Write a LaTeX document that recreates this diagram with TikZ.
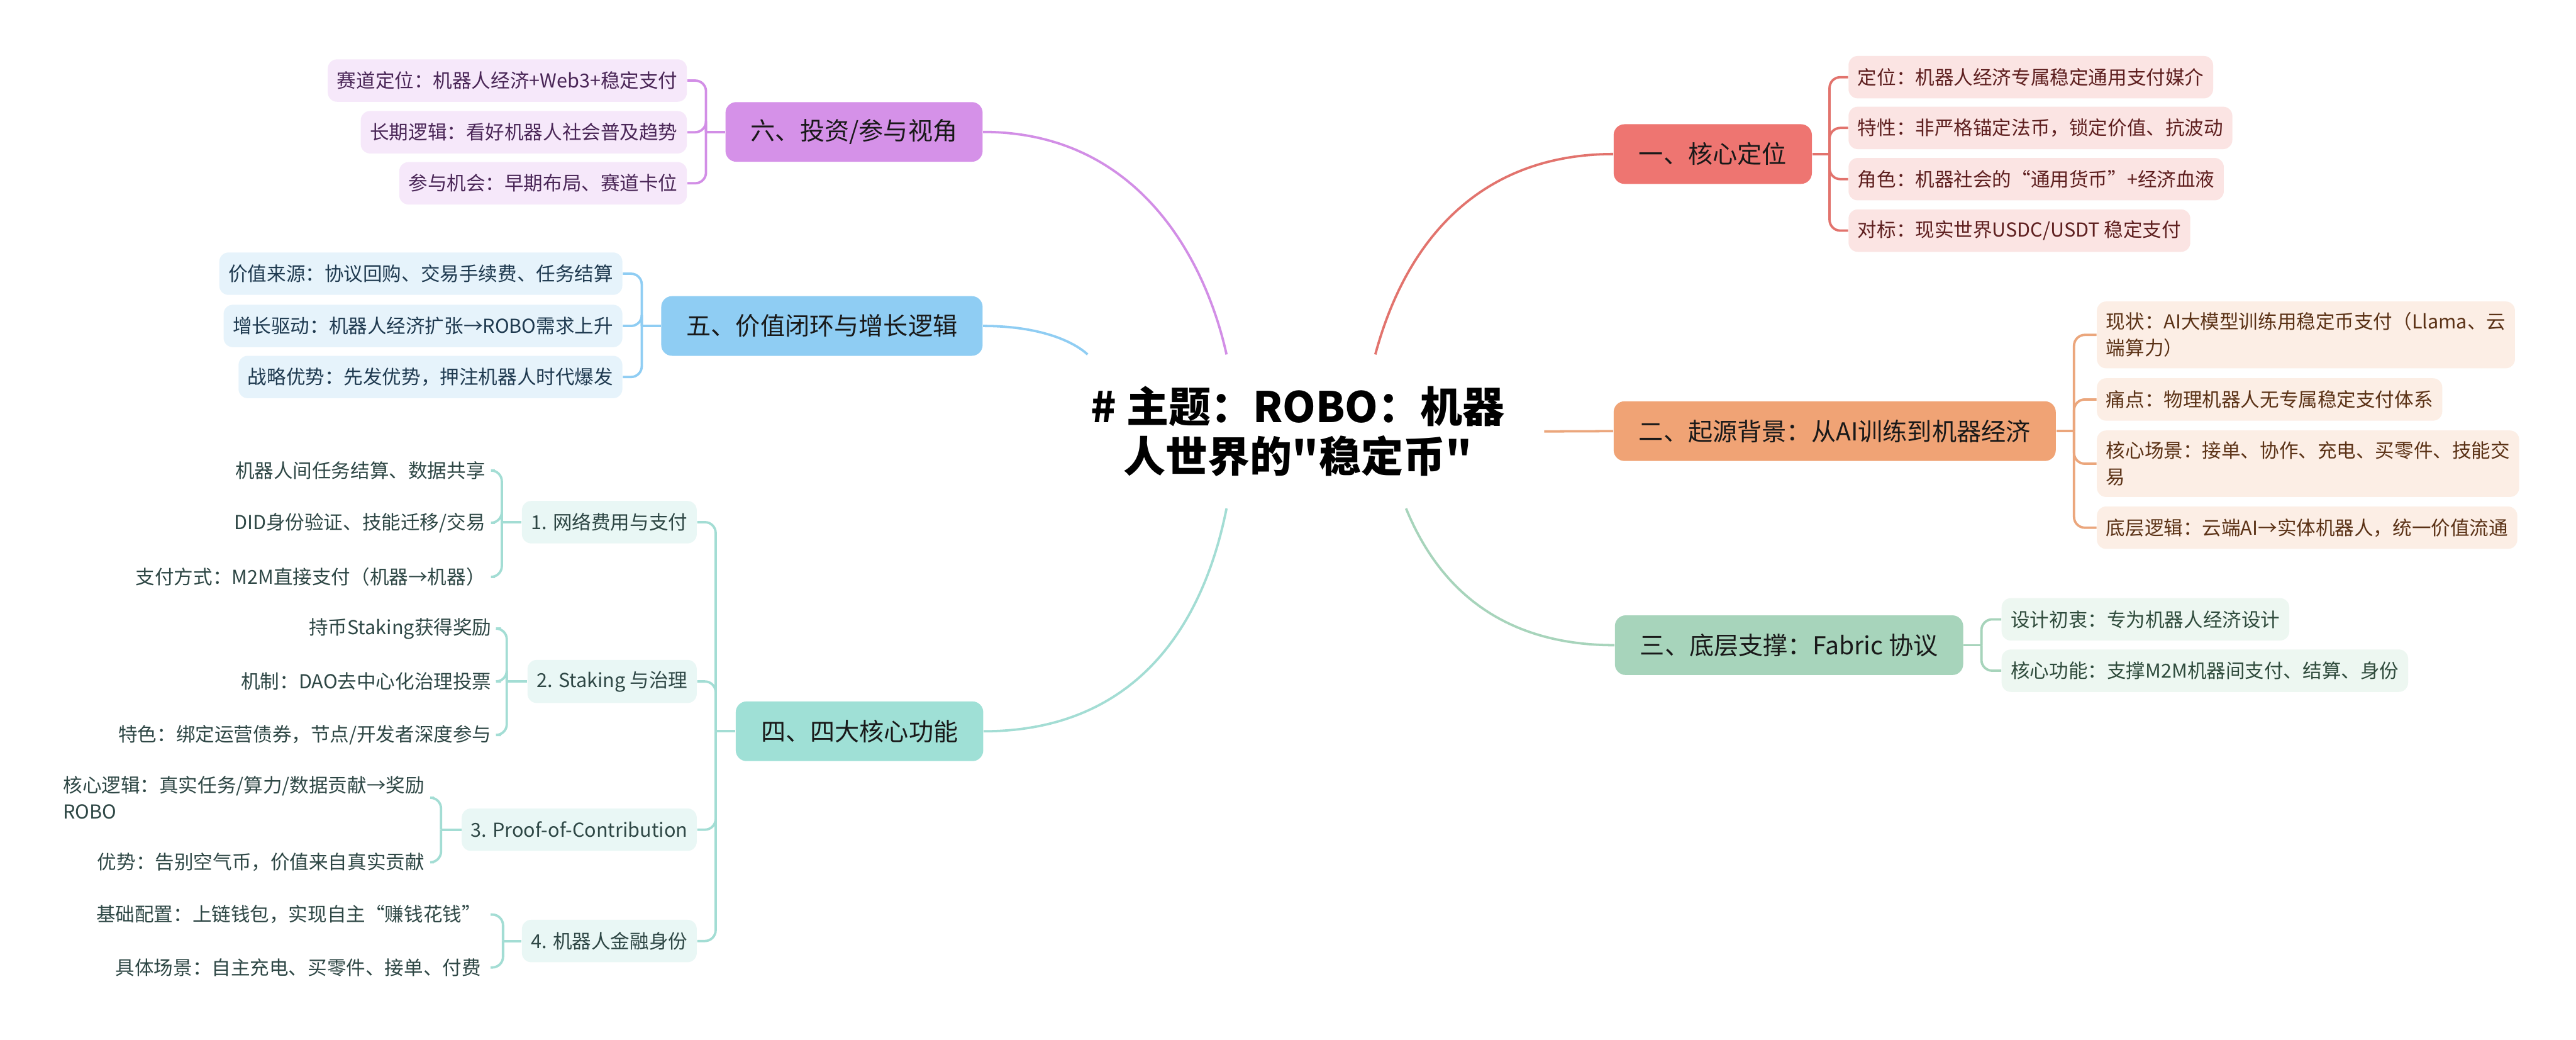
\documentclass[tikz,border=0pt]{standalone}
\usepackage{fontspec}
\setmainfont{Noto Sans CJK SC}[Ligatures=TeXOff]
\usetikzlibrary{calc}

\definecolor{mc1}{HTML}{EE7571}
\definecolor{lf1}{HTML}{FBE4E3}
\definecolor{tx1}{HTML}{5E1F1F}
\definecolor{ln1}{HTML}{E2736D}
\definecolor{mc2}{HTML}{F0A375}
\definecolor{lf2}{HTML}{FCEEE5}
\definecolor{tx2}{HTML}{5B3216}
\definecolor{ln2}{HTML}{EBA67C}
\definecolor{mc3}{HTML}{A7D4BB}
\definecolor{lf3}{HTML}{EDF7F1}
\definecolor{tx3}{HTML}{2F4B3C}
\definecolor{ln3}{HTML}{A7D4BB}
\definecolor{mc4}{HTML}{9FE0D6}
\definecolor{lf4}{HTML}{E9F7F5}
\definecolor{tx4}{HTML}{2E4745}
\definecolor{ln4}{HTML}{A3DDD4}
\definecolor{mc5}{HTML}{8FCDF3}
\definecolor{lf5}{HTML}{E6F3FB}
\definecolor{tx5}{HTML}{1F3A50}
\definecolor{ln5}{HTML}{8FCDF3}
\definecolor{mc6}{HTML}{D591E8}
\definecolor{lf6}{HTML}{F6E8FA}
\definecolor{tx6}{HTML}{4A2657}
\definecolor{ln6}{HTML}{D28EE6}

\tikzset{
  rootblk/.style={rectangle,inner sep=0pt,minimum width=7.0cm,minimum height=2.49cm,align=center,font=\fontsize{19.5}{23}\selectfont\bfseries},
  mainblk/.style={rectangle,rounded corners=5pt,minimum height=0.97cm,inner xsep=0.41cm,inner ysep=0pt,font=\fontsize{11.4}{14}\selectfont,text=black!90},
  leafblk/.style={rectangle,rounded corners=4.3pt,inner xsep=0.15cm,inner ysep=0.18cm,minimum height=0.69cm,align=left,font=\fontsize{8.9}{12.2}\selectfont},
  leaf1/.style={leafblk,fill=lf1,text=tx1},
  leaf2/.style={leafblk,fill=lf2,text=tx2},
  leaf3/.style={leafblk,fill=lf3,text=tx3},
  leaf4/.style={leafblk,fill=lf4,text=tx4},
  leaf5/.style={leafblk,fill=lf5,text=tx5},
  leaf6/.style={leafblk,fill=lf6,text=tx6},
  txt4/.style={leafblk,text=tx4},
  curv/.style={line width=1.1pt},
  brc/.style={line width=1.1pt,rounded corners=5pt}
}

\begin{document}
\begin{tikzpicture}
  \useasboundingbox (0,0) rectangle (41.90,-16.90);
  \fill[white] (0,0) rectangle (41.90,-16.90);

  % Central topic
  \node[rootblk] (root) at (21.11,-7.015) {\# 主题：ROBO：机器\\人世界的"稳定币"};

  % Main branches
  \node[mainblk,fill=mc1,anchor=west] (main1) at (26.24,-2.505) {一、核心定位};
  \node[mainblk,fill=mc2,anchor=west] (main2) at (26.24,-7.01) {二、起源背景：从AI训练到机器经济};
  \node[mainblk,fill=mc3,anchor=west] (main3) at (26.26,-10.49) {三、底层支撑：Fabric 协议};
  \node[mainblk,fill=mc4,anchor=east] (main4) at (16.00,-11.89) {四、四大核心功能};
  \node[mainblk,fill=mc5,anchor=east] (main5) at (15.99,-5.30) {五、价值闭环与增长逻辑};
  \node[mainblk,fill=mc6,anchor=east] (main6) at (15.99,-2.145) {六、投资/参与视角};

  % Curves from the centre
  \draw[curv,ln1] ($(root.north)+(1.26,0)$) .. controls +(0.53,1.97) and +(-2.07,0) .. (main1.west);
  \draw[curv,ln2] ($(root.east)+(0.5,0)$) -- (main2.west);
  \draw[curv,ln3] ($(root.south)+(1.76,0)$) .. controls +(0.63,-1.54) and +(-1.57,0) .. (main3.west);
  \draw[curv,ln4] ($(root.south)+(-1.16,0)$) .. controls +(-0.45,-2.24) and +(2.21,0) .. (main4.east);
  \draw[curv,ln5] ($(root.north)+(-3.42,0)$) .. controls +(-0.24,0.22) and +(0.91,0) .. (main5.east);
  \draw[curv,ln6] ($(root.north)+(-1.16,0)$) .. controls +(-0.35,1.57) and +(2.51,0) .. (main6.east);

  % 1: core position
  \node[leaf1,anchor=west] (l1a) at (30.06,-1.255) {定位：机器人经济专属稳定通用支付媒介};
  \node[leaf1,anchor=west] (l1b) at (30.06,-2.08) {特性：非严格锚定法币，锁定价值、抗波动};
  \node[leaf1,anchor=west] (l1c) at (30.06,-2.913) {角色：机器社会的“通用货币”+经济血液};
  \node[leaf1,anchor=west] (l1d) at (30.06,-3.75) {对标：现实世界USDC/USDT 稳定支付};
  \coordinate (j1) at ($(main1.east)+(0.28,0)$);
  \draw[brc,ln1] (main1.east) -- (j1);
  \foreach \t in {l1a,l1b,l1c,l1d}
    \draw[brc,ln1] (j1) |- (\t.west);

  % 2: origin
  \node[leaf2,anchor=west] (l2a) at (34.10,-5.445) {现状：AI大模型训练用稳定币支付（Llama、云\\端算力）};
  \node[leaf2,anchor=west] (l2b) at (34.10,-6.495) {痛点：物理机器人无专属稳定支付体系};
  \node[leaf2,anchor=west] (l2c) at (34.10,-7.54) {核心场景：接单、协作、充电、买零件、技能交\\易};
  \node[leaf2,anchor=west] (l2d) at (34.10,-8.58) {底层逻辑：云端AI→实体机器人，统一价值流通};
  \coordinate (j2) at ($(main2.east)+(0.29,0)$);
  \draw[brc,ln2] (main2.east) -- (j2);
  \foreach \t in {l2a,l2b,l2c,l2d}
    \draw[brc,ln2] (j2) |- (\t.west);

  % 3: Fabric
  \node[leaf3,anchor=west] (l3a) at (32.55,-10.07) {设计初衷：专为机器人经济设计};
  \node[leaf3,anchor=west] (l3b) at (32.55,-10.905) {核心功能：支撑M2M机器间支付、结算、身份};
  \coordinate (j3) at ($(main3.east)+(0.29,0)$);
  \draw[brc,ln3] (main3.east) -- (j3);
  \foreach \t in {l3a,l3b}
    \draw[brc,ln3] (j3) |- (\t.west);

  % 6: investment
  \node[leaf6,anchor=east] (l6a) at (11.18,-1.31) {赛道定位：机器人经济+Web3+稳定支付};
  \node[leaf6,anchor=east] (l6b) at (11.18,-2.15) {长期逻辑：看好机器人社会普及趋势};
  \node[leaf6,anchor=east] (l6c) at (11.18,-2.98) {参与机会：早期布局、赛道卡位};
  \coordinate (j6) at ($(main6.west)+(-0.31,0)$);
  \draw[brc,ln6] (main6.west) -- (j6);
  \foreach \t in {l6a,l6b,l6c}
    \draw[brc,ln6] (j6) |- (\t.east);

  % 5: value loop
  \node[leaf5,anchor=east] (l5a) at (10.13,-4.45) {价值来源：协议回购、交易手续费、任务结算};
  \node[leaf5,anchor=east] (l5b) at (10.13,-5.30) {增长驱动：机器人经济扩张→ROBO需求上升};
  \node[leaf5,anchor=east] (l5c) at (10.13,-6.13) {战略优势：先发优势，押注机器人时代爆发};
  \coordinate (j5) at ($(main5.west)+(-0.31,0)$);
  \draw[brc,ln5] (main5.west) -- (j5);
  \foreach \t in {l5a,l5b,l5c}
    \draw[brc,ln5] (j5) |- (\t.east);

  % 4: four functions
  \node[leaf4,anchor=east] (s41) at (11.34,-8.49) {1. 网络费用与支付};
  \node[leaf4,anchor=east] (s42) at (11.34,-11.08) {2. Staking 与治理};
  \node[leaf4,anchor=east] (s43) at (11.34,-13.49) {3. Proof-of-Contribution};
  \node[leaf4,anchor=east] (s44) at (11.34,-15.30) {4. 机器人金融身份};
  \coordinate (j4) at ($(main4.west)+(-0.32,0)$);
  \draw[brc,ln4] (main4.west) -- (j4);
  \foreach \t in {s41,s42,s43,s44}
    \draw[brc,ln4] (j4) |- (\t.east);

  \node[txt4,anchor=east] (t1a) at (8.05,-7.65) {机器人间任务结算、数据共享};
  \node[txt4,anchor=east] (t1b) at (8.05,-8.50) {DID身份验证、技能迁移/交易};
  \node[txt4,anchor=east] (t1c) at (8.05,-9.38) {支付方式：M2M直接支付（机器→机器）};
  \node[txt4,anchor=east] (t2a) at (8.15,-10.22) {持币Staking获得奖励};
  \node[txt4,anchor=east] (t2b) at (8.15,-11.08) {机制：DAO去中心化治理投票};
  \node[txt4,anchor=east] (t2c) at (8.15,-11.95) {特色：绑定运营债券，节点/开发者深度参与};
  \node[txt4,anchor=east] (t3a) at (7.06,-12.97) {核心逻辑：真实任务/算力/数据贡献→奖励\\ROBO};
  \node[txt4,anchor=east] (t3b) at (7.06,-14.02) {优势：告别空气币，价值来自真实贡献};
  \node[txt4,anchor=east] (t4a) at (7.98,-14.87) {基础配置：上链钱包，实现自主“赚钱花钱”};
  \node[txt4,anchor=east] (t4b) at (7.98,-15.73) {具体场景：自主充电、买零件、接单、付费};

  \coordinate (k1) at ($(s41.west)+(-0.32,0)$);
  \coordinate (k2) at ($(s42.west)+(-0.33,0)$);
  \coordinate (k3) at ($(s43.west)+(-0.33,0)$);
  \coordinate (k4) at ($(s44.west)+(-0.30,0)$);
  \draw[brc,ln4] (s41.west) -- (k1);
  \draw[brc,ln4] (s42.west) -- (k2);
  \draw[brc,ln4] (s43.west) -- (k3);
  \draw[brc,ln4] (s44.west) -- (k4);
  \foreach \t in {t1a,t1b,t1c}
    \draw[brc,ln4] (k1) |- (\t.east);
  \foreach \t in {t2a,t2b,t2c}
    \draw[brc,ln4] (k2) |- (\t.east);
  \foreach \t in {t3a,t3b}
    \draw[brc,ln4] (k3) |- (\t.east);
  \foreach \t in {t4a,t4b}
    \draw[brc,ln4] (k4) |- (\t.east);

\end{tikzpicture}
\end{document}
